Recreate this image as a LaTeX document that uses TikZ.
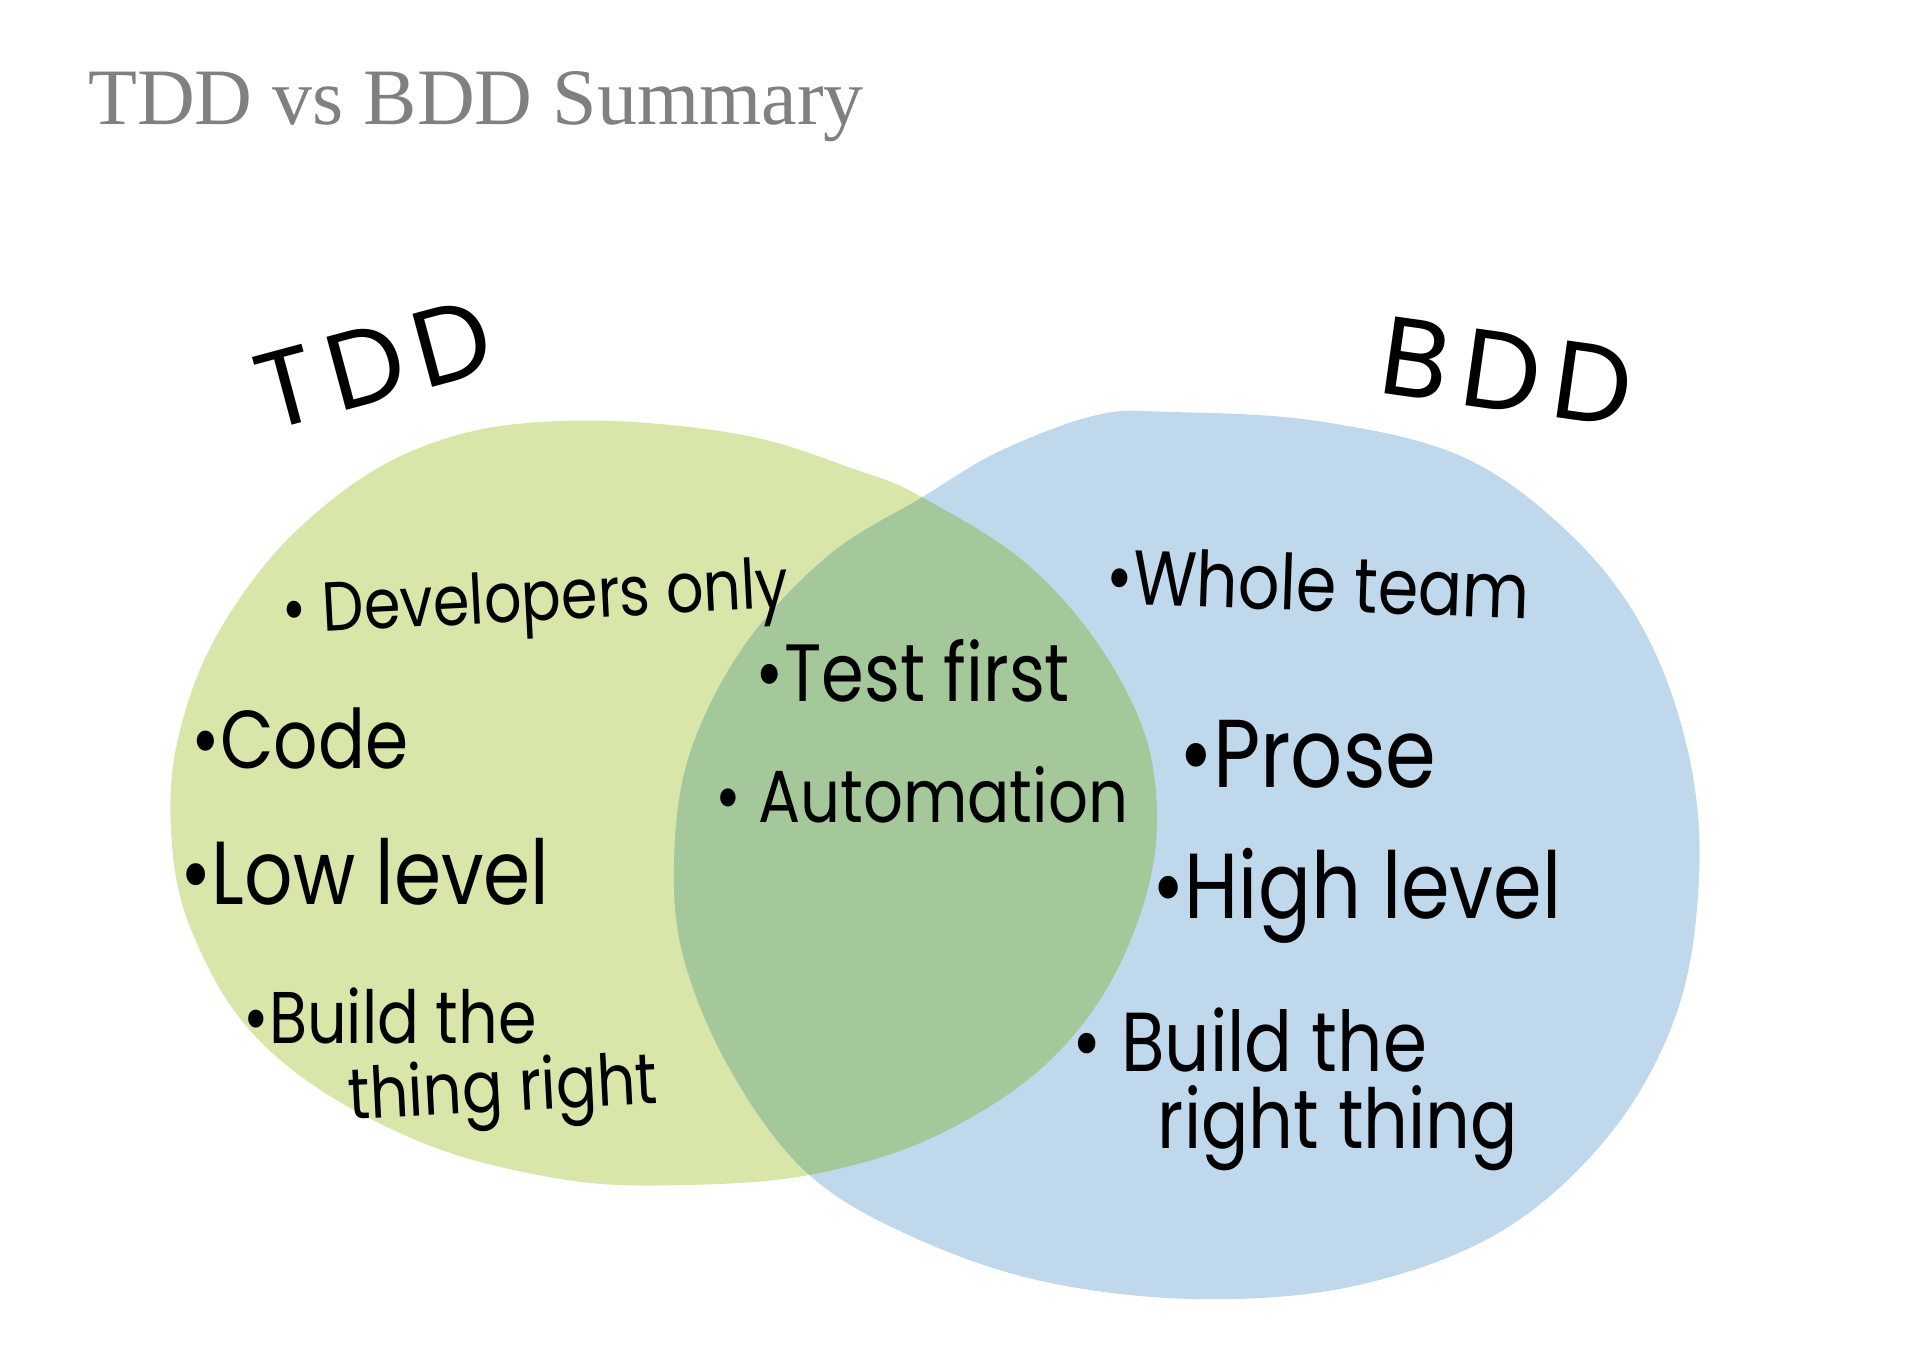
\documentclass[tikz,border=0pt]{standalone}
\usepackage{fontspec}
\setmainfont{Liberation Serif}
\newfontfamily\handfont{Poppins}
\newfontfamily\setfont{Poppins}[LetterSpace=12]
\definecolor{tddgreen}{RGB}{217,230,170}
\definecolor{bddblue}{RGB}{191,216,236}
\definecolor{bothgreen}{RGB}{164,200,154}
\definecolor{titlegray}{RGB}{128,128,128}
% marker-style lettering: given width, letters drawn a little taller than the font
\newcommand{\marker}[2]{\resizebox{#1}{!}{\scalebox{1}[1.18]{\handfont #2}}}
\begin{document}
\begin{tikzpicture}[x=1pt,y=-1pt,
  note/.style={inner sep=0pt, text=black},
  setname/.style={inner sep=0pt, text=black}]
\useasboundingbox (0,0) rectangle (1912,1346);
\fill[white] (0,0) rectangle (1912,1346);

% outlines of the two hand-drawn sets
\def\tddblob{plot[smooth cycle, tension=0.65] coordinates {
  (561,421) (732,433) (854,469) (927,500) (1037,573) (1122,683) (1156,793)
  (1140,915) (1073,1036) (963,1122) (829,1171) (683,1185) (549,1177)
  (402,1134) (268,1049) (195,939) (171,829) (183,719) (232,610) (317,512)
  (427,445)}}
\def\bddblob{plot[smooth cycle, tension=0.6] coordinates {
  (921,498) (1000,451) (1097,415) (1171,412) (1317,421) (1463,457)
  (1573,537) (1646,634) (1689,756) (1699,878) (1677,1012) (1610,1134)
  (1500,1232) (1354,1286) (1195,1299) (1037,1280) (902,1232) (805,1171)
  (732,1073) (685,963) (674,866) (689,756) (744,646) (829,555)}}

\fill[tddgreen] \tddblob;
\fill[bddblue] \bddblob;
\begin{scope}
  \clip \tddblob;
  \fill[bothgreen] \bddblob;
\end{scope}

% title
\node[anchor=base west, inner sep=0pt, text=titlegray,
  font=\fontsize{80}{96}\selectfont] (title) at (88,124) {TDD vs BDD Summary};

% set names
\node[setname, rotate=15] (tdd) at (374,364) {\resizebox{238pt}{!}{\setfont TDD}};
\node[setname, rotate=-8] (bdd) at (1507,372) {\resizebox{252pt}{!}{\setfont BDD}};

% TDD only
\node[note, rotate=3] (devonly) at (536,604) {\marker{507pt}{\textbullet\ Developers only}};
\node[note] (code) at (300,738) {\marker{217pt}{\textbullet Code}};
\node[note] (low) at (365,872) {\marker{369pt}{\textbullet Low level}};
\node[note] (buildl) at (390,1016) {\marker{293pt}{\textbullet Build the}};
\node[note, rotate=3] (thingright) at (503,1094) {\marker{310pt}{thing right}};

% shared
\node[note] (testfirst) at (913,671) {\marker{314pt}{\textbullet Test first}};
\node[note] (auto) at (922,795) {\marker{412pt}{\textbullet\ Automation}};

% BDD only
\node[note, rotate=-2] (whole) at (1318,583) {\marker{424pt}{\textbullet Whole team}};
\node[note] (prose) at (1308,754) {\marker{257pt}{\textbullet Prose}};
\node[note] (high) at (1357,896) {\marker{409pt}{\textbullet High level}};
\node[note] (buildr) at (1250,1040) {\marker{354pt}{\textbullet\ Build the}};
\node[note] (rightthing) at (1338,1128) {\marker{360pt}{right thing}};
\end{tikzpicture}
\end{document}
